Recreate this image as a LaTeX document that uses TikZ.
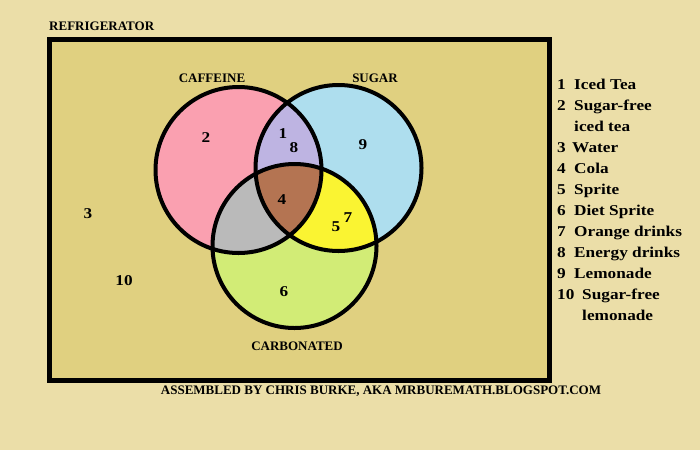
\documentclass[tikz,border=0pt]{standalone}
\usepackage{fontspec}
\setmainfont{Liberation Serif}
\newfontfamily\legfont{Liberation Serif}[FakeStretch=1.15]
\definecolor{bgout}{RGB}{235,222,168}
\definecolor{bgin}{RGB}{224,208,128}
\definecolor{cpink}{RGB}{250,160,176}
\definecolor{cblue}{RGB}{174,222,238}
\definecolor{cpurple}{RGB}{190,180,226}
\definecolor{cbrown}{RGB}{180,116,82}
\definecolor{cgray}{RGB}{186,186,186}
\definecolor{cyellow}{RGB}{250,244,50}
\definecolor{cgreen}{RGB}{210,236,118}
\begin{document}
\begin{tikzpicture}[x=1pt,y=-1pt,
  lbl/.style={font=\bfseries\fontsize{13}{15}\selectfont, inner sep=0pt},
  num/.style={font=\legfont\bfseries\fontsize{15}{17}\selectfont, inner sep=0pt},
  leg/.style={font=\legfont\bfseries\fontsize{15}{17}\selectfont, inner sep=0pt, anchor=base west},
  ring/.style={line width=4pt}]
\useasboundingbox (0,0) rectangle (700,450);
\fill[bgout] (0,0) rectangle (700,450);
\node[draw, line width=5pt, fill=bgin, minimum width=500pt, minimum height=341.5pt, inner sep=0pt, anchor=north west] (fridge) at (46.5,36.5) {};
\node[lbl, anchor=base west] (tfridge) at (49,30) {REFRIGERATOR};
% circles
\def\caf{(238.5,170) circle (83)}
\def\sug{(338.5,168) circle (83)}
\def\carb{(294.5,246) circle (82)}
\fill[cpink] \caf;
\fill[cblue] \sug;
\fill[cgreen] \carb;
\begin{scope}\clip \caf; \fill[cpurple] \sug; \end{scope}
\begin{scope}\clip \caf; \fill[cgray] \carb; \end{scope}
\begin{scope}\clip \sug; \fill[cyellow] \carb; \end{scope}
\begin{scope}\clip \caf; \clip \sug; \fill[cbrown] \carb; \end{scope}
\draw[ring] \caf;
\draw[ring] \sug;
\draw[ring] \carb;
\node[lbl] (tcaf) at (212,78) {CAFFEINE};
\node[lbl] (tsug) at (375,78) {SUGAR};
\node[lbl] (tcarb) at (297,346) {CARBONATED};
% numbers
\node[num] (n2) at (206,138) {2};
\node[num] (n1) at (283,134) {1};
\node[num] (n8) at (294,148) {8};
\node[num] (n9) at (363,145) {9};
\node[num] (n4) at (282,200) {4};
\node[num] (n5) at (336,227) {5};
\node[num] (n7) at (348,218) {7};
\node[num] (n6) at (284,292) {6};
\node[num] (n3) at (88,214) {3};
\node[num] (n10) at (124,281) {10};
% legend
\node[leg] (l1) at (557,89) {1};      \node[leg] (l1t) at (574,89) {Iced Tea};
\node[leg] (l2) at (557,110) {2};     \node[leg] (l2t) at (574,110) {Sugar-free};
\node[leg] (l2u) at (574,131) {iced tea};
\node[leg] (l3) at (557,152) {3};     \node[leg] (l3t) at (572,152) {Water};
\node[leg] (l4) at (557,173) {4};     \node[leg] (l4t) at (574,173) {Cola};
\node[leg] (l5) at (557,194) {5};     \node[leg] (l5t) at (574,194) {Sprite};
\node[leg] (l6) at (557,215) {6};     \node[leg] (l6t) at (574,215) {Diet Sprite};
\node[leg] (l7) at (557,236) {7};     \node[leg] (l7t) at (574,236) {Orange drinks};
\node[leg] (l8) at (557,257) {8};     \node[leg] (l8t) at (574,257) {Energy drinks};
\node[leg] (l9) at (557,278) {9};     \node[leg] (l9t) at (574,278) {Lemonade};
\node[leg] (l10) at (557,299) {10};   \node[leg] (l10t) at (582,299) {Sugar-free};
\node[leg] (l10u) at (582,320) {lemonade};
\node[lbl] (foot) at (381,391) {ASSEMBLED BY CHRIS BURKE, AKA MRBUREMATH.BLOGSPOT.COM};
\end{tikzpicture}
\end{document}
